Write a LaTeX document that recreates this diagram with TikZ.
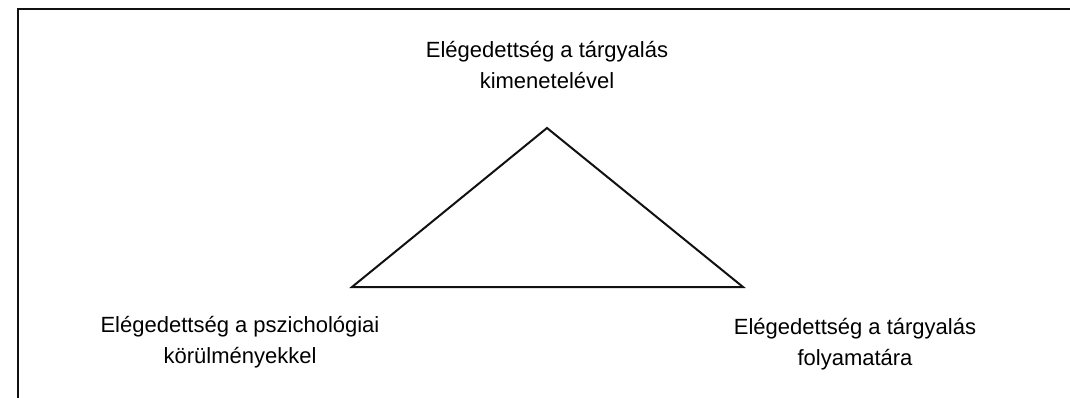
\documentclass[tikz,border=0pt]{standalone}
\usepackage{fontspec}
\setmainfont{Liberation Sans}
\setsansfont{Liberation Sans}
\usetikzlibrary{positioning}
\definecolor{cline}{HTML}{111111}
\tikzset{
  every picture/.style={font=\sffamily, line width=1.6pt},
  corner/.style={label text, align=center, font=\sffamily\fontsize{22}{31}\selectfont, inner sep=0pt},
  label text/.style={text=black},
  frameline/.style={draw=cline, line width=2pt},
  triline/.style={draw=cline, line width=2pt, line join=miter},
}

\begin{document}
\begin{tikzpicture}[x=1pt, y=-1pt]
  \useasboundingbox (0,0) rectangle (1070,398);
  \draw[frameline] (18,398) -- (18,9) -- (1070,9);

  \coordinate (apex) at (547,128);
  \coordinate (left) at (352,287);
  \coordinate (right) at (743,287);
  \draw[triline] (apex) -- (left) -- (right) -- cycle;

  \node[corner] (outcome) at (547,65) {Elégedettség a tárgyalás\\kimenetelével};
  \node[corner] (psych) at (240,342) {Elégedettség a pszichológiai\\körülményekkel};
  \node[corner] (process) at (855,344.5) {Elégedettség a tárgyalás\\folyamatára};
\end{tikzpicture}
\end{document}
